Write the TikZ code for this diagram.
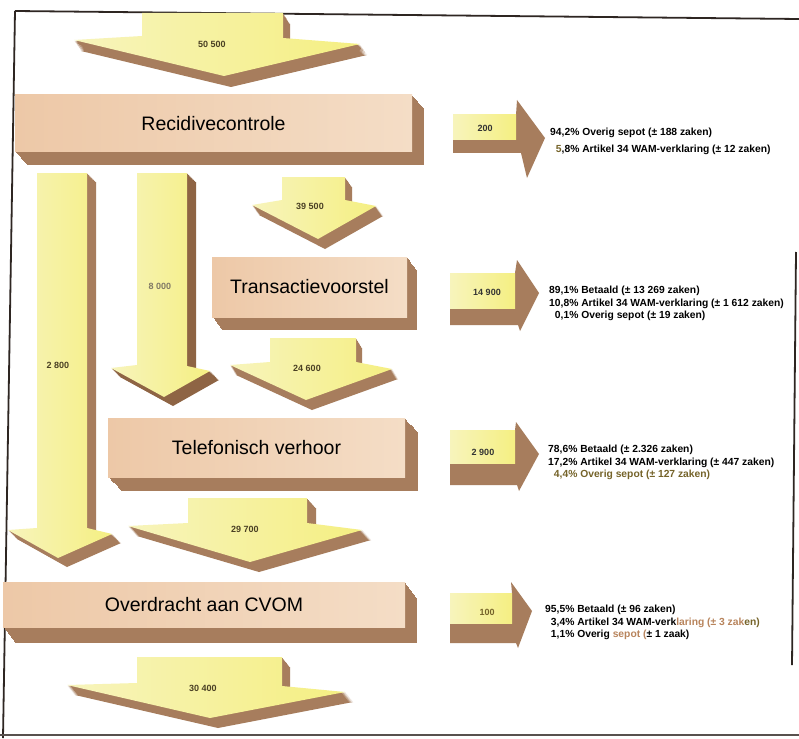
\documentclass[tikz,border=0pt]{standalone}
\usepackage{fontspec}
\setmainfont{Liberation Sans}
\usetikzlibrary{calc}
\definecolor{shadowc}{HTML}{A77D5D}
\definecolor{shadowd}{HTML}{8E6444}
\definecolor{yelL}{HTML}{F7F4BC}
\definecolor{yelR}{HTML}{F5EF82}
\definecolor{boxL}{HTML}{EDC8A7}
\definecolor{boxR}{HTML}{F4DDC6}
\definecolor{lbl}{HTML}{4A4024}
\definecolor{olivec}{HTML}{756329}
\definecolor{tanc}{HTML}{B8845C}
\definecolor{framec}{HTML}{2E2622}
\newcommand\blockarrow[4]{%
  \foreach \s in {1,...,10}{\fill[#3,shift={(#1*\s/10,#2*\s/10)}] #4;}
  \shade[left color=yelL,right color=yelR] #4;}
\newcommand\boxshadow[6]{%
  \foreach \s in {1,...,12}{\fill[shadowc] (#1+#5*\s/12,#2+#6*\s/12) rectangle (#3+#5*\s/12,#4+#6*\s/12);}}
\newcommand\rightarrowshape[2]{%
  \fill[shadowc] #1; \shade[left color=yelL,right color=yelR] #2;}
\tikzset{
  boxnode/.style={shade,left color=boxL,right color=boxR,inner sep=0pt,
    font=\fontsize{19.5}{22}\selectfont,text=black},
  arrlabel/.style={font=\bfseries\fontsize{9}{10}\selectfont,text=lbl,inner sep=0pt},
  rtext/.style={font=\bfseries\fontsize{10.3}{12.5}\selectfont,inner sep=0pt,anchor=base west},
  framel/.style={draw=framec,line width=1.8pt}
}
\begin{document}
\begin{tikzpicture}[x=1pt,y=-1pt]
\useasboundingbox (0,0) rectangle (799,738);
\fill[white] (0,0) rectangle (799,738);
% frame
\draw[framel] (15,11) -- (799,19);
\draw[framel] (15,11) -- (3,738);
\draw[framel] (796,252) -- (792,665);
\draw[draw=framec!80,line width=1.4pt] (0,735) -- (799,735);

% top arrow
\blockarrow{7}{11}{shadowc}{(142,13) -- (283,13) -- (283,38) -- (360,44) -- (224,76) -- (74,40) -- (142,36) -- cycle}
\node[arrlabel] (l1) at (212,44) {50 500};

% Recidivecontrole
\boxshadow{15}{95}{412}{152}{12}{13}
\node[boxnode,minimum width=397,minimum height=57] (recid) at (213.5,123.5) {Recidivecontrole};

% left long arrow
\blockarrow{9}{9}{shadowc}{(37,173) -- (87,173) -- (87,528) -- (112,534) -- (58,558) -- (8,530) -- (37,528) -- cycle}
\node[arrlabel] (l2) at (58,365) {2 800};

% middle arrow
\blockarrow{9}{9}{shadowd}{(137,173) -- (187,173) -- (187,366) -- (210,371) -- (164,397) -- (111,368) -- (137,365) -- cycle}
\node[arrlabel,text=lbl!70] (l3) at (160,286) {8 000};

% arrow 39 500
\blockarrow{7}{10}{shadowc}{(282,177) -- (345,177) -- (345,200) -- (376,206) -- (318,239) -- (252,205) -- (282,200) -- cycle}
\node[arrlabel] (l4) at (310,206) {39 500};

% Transactievoorstel
\boxshadow{212}{257}{407}{317}{10}{13}
\node[boxnode,minimum width=195,minimum height=60] (trans) at (309.5,287) {Transactievoorstel};

% arrow 24 600
\blockarrow{6}{10}{shadowc}{(270,338) -- (356,338) -- (356,362) -- (392,369) -- (306,400) -- (230,365) -- (270,362) -- cycle}
\node[arrlabel] (l5) at (307,368) {24 600};

% Telefonisch verhoor
\boxshadow{108}{418}{405}{477}{13}{14}
\node[boxnode,minimum width=297,minimum height=59] (telef) at (256.5,447.5) {Telefonisch verhoor};

% arrow 29 700
\blockarrow{9}{10}{shadowc}{(188,498) -- (307,498) -- (307,523) -- (362,530) -- (250,562) -- (128,526) -- (188,523) -- cycle}
\node[arrlabel] (l6) at (245,529) {29 700};

% Overdracht aan CVOM
\boxshadow{3}{582}{405}{627}{12}{16}
\node[boxnode,minimum width=402,minimum height=45] (overd) at (204,604.5) {Overdracht aan CVOM};

% bottom arrow
\blockarrow{8}{10}{shadowc}{(137,657) -- (282,657) -- (282,686) -- (345,692) -- (210,718) -- (67,685) -- (137,683) -- cycle}
\node[arrlabel] (l7) at (203,688) {30 400};

% right arrows
\rightarrowshape{(453,115) -- (516,115) -- (517,100) -- (545,138) -- (527,178) -- (521,153) -- (453,153) -- cycle}{(453,115) rectangle (516,140)}
\node[arrlabel,text=black!80] (r1) at (485,128) {200};
\rightarrowshape{(450,273) -- (515,273) -- (517,260) -- (539,293) -- (520,331) -- (518,325) -- (450,325) -- cycle}{(450,273) rectangle (515,308)}
\node[arrlabel,text=black!80] (r2) at (487,292) {14 900};
\rightarrowshape{(450,430) -- (515,430) -- (516,422) -- (539,454) -- (519,491) -- (517,485) -- (450,485) -- cycle}{(450,430) rectangle (515,463)}
\node[arrlabel,text=black!80] (r3) at (483,452) {2 900};
\rightarrowshape{(450,593) -- (512,593) -- (511,582) -- (532,611) -- (518,648) -- (516,643) -- (450,643) -- cycle}{(450,593) rectangle (512,623)}
\node[arrlabel,text=olivec] (r4) at (487,612) {100};

% right texts
\node[rtext] (t1) at (550,135.6) {\begin{tabular}[t]{@{}r@{\ }l@{}}
94,2\% & Overig sepot (± 188 zaken)\\[4pt]
\textcolor{olivec}{5},8\% & Artikel 34 WAM-verklaring (± 12 zaken)\end{tabular}};
\node[rtext] (t2) at (549,293.6) {\begin{tabular}[t]{@{}r@{\ }l@{}}
89,1\% & Betaald (± 13 269 zaken)\\
10,8\% & Artikel 34 WAM-verklaring (± 1 612 zaken)\\
0,1\% & Overig sepot (± 19 zaken)\end{tabular}};
\node[rtext] (t3) at (548,452.6) {\begin{tabular}[t]{@{}r@{\ }l@{}}
78,6\% & Betaald (± 2.326 zaken)\\
17,2\% & Artikel 34 WAM-verklaring (± 447 zaken)\\
\textcolor{olivec}{4,4\%} & \textcolor{olivec}{Overig sepot (± 127 zaken)}\end{tabular}};
\node[rtext] (t4) at (545,612.6) {\begin{tabular}[t]{@{}r@{\ }l@{}}
95,5\% & Betaald (± 96 zaken)\\
3,4\% & Artikel 34 WAM-verk\textcolor{tanc}{laring (± 3 zak}\textcolor{olivec}{en)}\\
1,1\% & Overig \textcolor{tanc}{sepot (}± 1 zaak)\end{tabular}};
\end{tikzpicture}
\end{document}
